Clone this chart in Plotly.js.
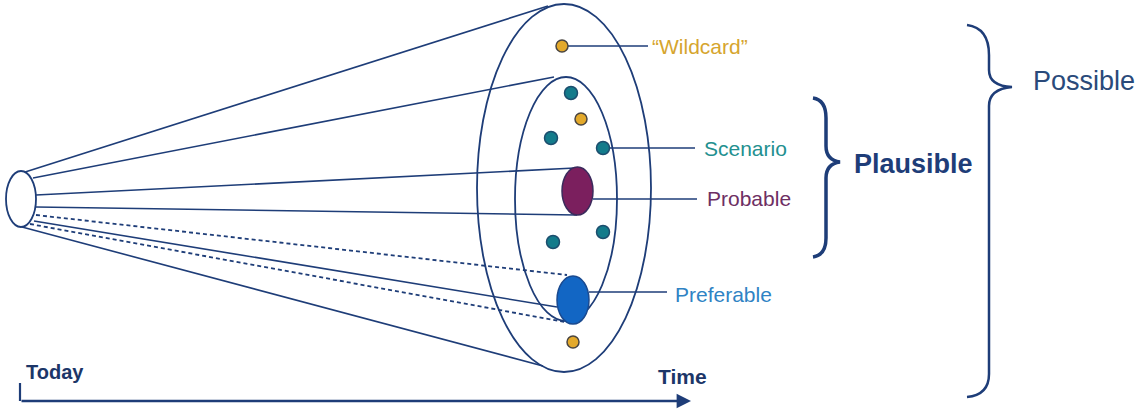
<!DOCTYPE html>
<html>
<head>
<meta charset="utf-8">
<script src="https://cdn.plot.ly/plotly-3.0.1.min.js"></script>
<style>html,body{margin:0;padding:0;background:#fff;}#chart{width:1141px;height:409px;}</style>
</head>
<body>
<div id="chart"></div>
<script>
// ---- Data (diagram coordinates, pixel-like units) ----
// Cone rays from "Today" ellipse to the future ellipses
const rayX0 = [22, 33, 36, 36, 36, 34, 30, 22];
const rayY0 = [173, 178, 195, 207, 215, 221, 224, 227];
const rayX1 = [548, 554, 575, 577, 567, 557, 565, 543];
const rayY1 = [6, 77, 168, 215, 275, 307, 322, 366];
const rayStyle = ['solid', 'solid', 'solid', 'solid', 'dash', 'solid', 'dash', 'solid'];

// Rings: Today, Possible (outer), Plausible (inner)
const ringNames = ['Today', 'Possible', 'Plausible'];
const ringCx = [21, 564, 566];
const ringCy = [199, 188, 199];
const ringRx = [15, 87, 51];
const ringRy = [28, 184, 122];

// Small future dots
const dotX = [562, 571, 581, 551, 603, 603, 553, 573];
const dotY = [46, 93, 119, 138, 148, 232, 242, 342];
const dotKind = ['wildcard', 'scenario', 'wildcard', 'scenario', 'scenario', 'scenario', 'scenario', 'wildcard'];

// Big futures
const bigNames = ['Probable', 'Preferable'];
const bigCx = [577.5, 573];
const bigCy = [191, 300];
const bigRx = [15.5, 16];
const bigRy = [24, 24];

// Labels with leader lines
const labelText = ['\u201CWildcard\u201D', 'Scenario', 'Probable', 'Preferable'];
const labelX = [650, 702, 705, 673];
const labelY = [46, 148, 198, 294];
const leaderX0 = [568, 609, 593, 589];
const leaderX1 = [648, 695, 697, 667];
const leaderY = [46, 148, 199, 292];
const labelKind = ['wildcard', 'scenario', 'probable', 'preferable'];

// ---- Styles ----
const NAVY = '#1e3d78';
const fill = {wildcard: '#e3a92b', scenario: '#137b8b', probable: '#7b1f5e', preferable: '#1266c4'};
const edge = {wildcard: '#4a4540', scenario: '#1c4e6e', probable: '#3b2a5c', preferable: '#1a4a90'};
const textCol = {wildcard: '#d6a52e', scenario: '#23908f', probable: '#6e2f63', preferable: '#2f83c4'};
const FONT = 'Liberation Sans, Arial, sans-serif';

const shapes = [];
// rays
for (let i = 0; i < rayX0.length; i++) {
  const dashed = rayStyle[i] === 'dash';
  shapes.push({type: 'line', layer: 'below', x0: rayX0[i], y0: rayY0[i], x1: rayX1[i], y1: rayY1[i],
    line: {color: NAVY, width: dashed ? 1.8 : 1.6, dash: dashed ? '4px,3px' : 'solid'}});
}
// rings
for (let i = 0; i < ringCx.length; i++) {
  shapes.push({type: 'circle', layer: 'below', x0: ringCx[i] - ringRx[i], x1: ringCx[i] + ringRx[i],
    y0: ringCy[i] - ringRy[i], y1: ringCy[i] + ringRy[i], fillcolor: i === 0 ? '#ffffff' : 'rgba(0,0,0,0)',
    line: {color: NAVY, width: 1.8}});
}
// leader lines
for (let i = 0; i < labelText.length; i++) {
  shapes.push({type: 'line', layer: 'below', x0: leaderX0[i], x1: leaderX1[i], y0: leaderY[i], y1: leaderY[i],
    line: {color: NAVY, width: 1.6}});
}
// big futures
for (let i = 0; i < bigNames.length; i++) {
  const k = bigNames[i].toLowerCase();
  shapes.push({type: 'circle', layer: 'above', x0: bigCx[i] - bigRx[i], x1: bigCx[i] + bigRx[i],
    y0: bigCy[i] - bigRy[i], y1: bigCy[i] + bigRy[i], fillcolor: fill[k], line: {color: edge[k], width: 1.5}});
}
// braces
shapes.push({type: 'path', layer: 'below',
  path: 'M 813,98 Q 826,100 826,118 L 826,146 Q 826,160 840,162 Q 826,164 826,178 L 826,238 Q 826,255 813,257',
  line: {color: NAVY, width: 3.5}});
shapes.push({type: 'path', layer: 'below',
  path: 'M 967,25 Q 989,28 989,55 L 989,70 Q 989,86 1012,87 Q 989,89 989,106 L 989,374 Q 989,395 967,397',
  line: {color: NAVY, width: 2.5}});
// time axis tick
shapes.push({type: 'line', layer: 'below', x0: 20, x1: 20, y0: 383, y1: 401, line: {color: NAVY, width: 2.2}});

const traces = [];
['scenario', 'wildcard'].forEach(k => {
  const xs = [], ys = [];
  dotKind.forEach((d, i) => { if (d === k) { xs.push(dotX[i]); ys.push(dotY[i]); } });
  traces.push({type: 'scatter', mode: 'markers', x: xs, y: ys, hoverinfo: 'skip', showlegend: false,
    marker: {size: k === 'wildcard' ? 12 : 13, color: fill[k], line: {color: edge[k], width: 1.5}}});
});

const annotations = [];
for (let i = 0; i < labelText.length; i++) {
  annotations.push({x: labelX[i], y: labelY[i], xanchor: 'left', yanchor: 'middle', showarrow: false,
    text: labelText[i], font: {family: FONT, size: 21, color: textCol[labelKind[i]]}});
}
annotations.push({x: 852, y: 164, xanchor: 'left', yanchor: 'middle', showarrow: false,
  text: '<b>Plausible</b>', font: {family: FONT, size: 27, color: NAVY}});
annotations.push({x: 1031, y: 81, xanchor: 'left', yanchor: 'middle', showarrow: false,
  text: 'Possible', font: {family: FONT, size: 27, color: '#2a4a7a'}});
annotations.push({x: 24, y: 372, xanchor: 'left', yanchor: 'middle', showarrow: false,
  text: '<b>Today</b>', font: {family: FONT, size: 20, color: '#1c3668'}});
annotations.push({x: 656, y: 376, xanchor: 'left', yanchor: 'middle', showarrow: false,
  text: '<b>Time</b>', font: {family: FONT, size: 21, color: '#1c3668'}});
// time arrow
annotations.push({x: 691, y: 401, ax: 20, ay: 401, axref: 'x', ayref: 'y', xref: 'x', yref: 'y',
  showarrow: true, arrowhead: 2, arrowsize: 1.2, arrowwidth: 2.4, arrowcolor: NAVY, text: ''});

const layout = {
  width: 1141, height: 409, margin: {l: 0, r: 0, t: 0, b: 0},
  paper_bgcolor: '#ffffff', plot_bgcolor: '#ffffff', showlegend: false,
  xaxis: {range: [0, 1141], visible: false, fixedrange: true},
  yaxis: {range: [409, 0], visible: false, fixedrange: true},
  shapes: shapes, annotations: annotations
};
Plotly.newPlot('chart', traces, layout, {displayModeBar: false, staticPlot: true});
</script>
</body>
</html>
